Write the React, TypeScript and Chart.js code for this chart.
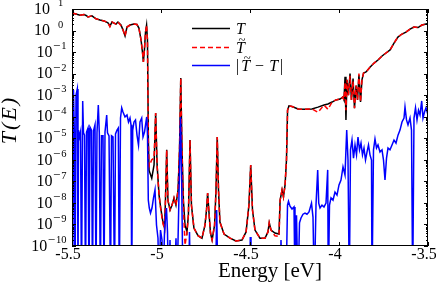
import React, { useEffect, useRef } from 'react';
import { Chart, registerables } from 'chart.js';

Chart.register(...registerables);

// ---- data ----
const energyT = [-5.500,-5.478,-5.455,-5.433,-5.421,-5.410,-5.388,-5.365,-5.343,-5.320,-5.298,-5.287,-5.275,-5.253,-5.242,-5.225,-5.213,-5.202,-5.191,-5.174,-5.152,-5.135,-5.124,-5.112,-5.104,-5.099,-5.093,-5.087,-5.081,-5.076,-5.071,-5.067,-5.052,-5.039,-5.030,-5.022,-5.011,-5.000,-4.989,-4.980,-4.975,-4.968,-4.961,-4.949,-4.938,-4.927,-4.916,-4.904,-4.896,-4.889,-4.882,-4.874,-4.865,-4.854,-4.846,-4.837,-4.829,-4.815,-4.792,-4.770,-4.753,-4.744,-4.738,-4.730,-4.722,-4.713,-4.699,-4.691,-4.684,-4.677,-4.669,-4.646,-4.612,-4.579,-4.545,-4.522,-4.506,-4.496,-4.486,-4.472,-4.444,-4.416,-4.399,-4.392,-4.382,-4.360,-4.337,-4.331,-4.320,-4.312,-4.303,-4.295,-4.289,-4.281,-4.264,-4.230,-4.191,-4.152,-4.118,-4.084,-4.062,-4.039,-4.017,-3.994,-3.978,-3.972,-3.966,-3.961,-3.955,-3.947,-3.938,-3.930,-3.921,-3.913,-3.904,-3.896,-3.888,-3.879,-3.871,-3.862,-3.848,-3.826,-3.803,-3.781,-3.758,-3.736,-3.713,-3.691,-3.669,-3.646,-3.624,-3.601,-3.579,-3.556,-3.534,-3.511,-3.500];

const transT = [6.5,5.9,5.2,5.6,5.0,4.3,4.8,3.5,3.1,2.8,2.3,1.6,2.5,2.0,2.5,1.8,1.05,0.56,1.45,1.8,2.0,1.9,1.3,0.36,0.1,0.035,0.13,0.85,1.8,0.36,8e-6,3.2e-7,1.4e-7,5.8e-7,1.5e-4,5.8e-7,2.3e-8,4.7e-9,1.3e-9,6.8e-10,1.3e-8,2.9e-6,1.3e-8,4.7e-9,7.9e-9,1.7e-8,7.9e-9,4e-8,2.9e-6,6.3e-3,2.9e-6,1.3e-8,9.3e-10,4.5e-10,2.8e-9,8.3e-6,7.9e-9,6.8e-10,3e-10,2.3e-10,9.3e-10,5e-9,2.9e-8,3.2e-9,4e-10,1.9e-10,9.3e-10,4e-8,1.15e-5,4e-8,1.3e-9,3.6e-10,2.3e-10,1.7e-10,1.9e-10,4.5e-10,7.9e-9,5.8e-7,4.7e-9,5.5e-10,2.3e-10,2.3e-10,4.5e-10,1.2e-9,5.5e-10,4e-10,3.6e-10,1.3e-8,4e-8,1.9e-8,6.8e-8,1e-6,2e-4,3.2e-4,3e-4,2.3e-4,2.2e-4,2.3e-4,2.8e-4,3.5e-4,3.9e-4,4.8e-4,6e-4,6.6e-4,8.3e-4,6e-4,7.2e-3,7e-5,5.2e-3,1e-3,1e-2,6e-4,5.9e-3,2.5e-4,2.8e-3,6e-4,8.7e-3,4.8e-4,5.2e-3,1.07e-2,1.2e-2,2e-2,3.1e-2,4.3e-2,6.6e-2,9.1e-2,0.126,0.26,0.5,0.69,0.85,1.17,1.45,1.38,1.8,2.0,2.1];

const transTilde = [6.5,5.9,5.2,5.6,5.0,4.3,4.8,3.5,3.1,2.8,2.3,1.5,2.5,2.0,2.5,1.7,1.05,0.56,1.45,1.8,2.0,1.9,1.3,0.36,0.1,0.035,0.13,0.85,1.8,0.36,8e-6,5e-7,1e-6,1.2e-6,1.5e-4,5.8e-7,2.3e-8,4e-9,1.1e-9,6e-10,1.3e-8,2.9e-6,1.3e-8,4.7e-9,7.9e-9,1.7e-8,7.9e-9,4e-8,2.9e-6,6.3e-3,2.9e-6,6e-9,1.1e-10,4.5e-10,2.8e-9,8.3e-6,7.9e-9,6.8e-10,3e-10,2.3e-10,9.3e-10,5e-9,2.9e-8,3.2e-9,4e-10,1.9e-10,9.3e-10,4e-8,1.15e-5,4e-8,1.3e-9,3.6e-10,2.3e-10,1.7e-10,1.9e-10,4.5e-10,7.9e-9,5.8e-7,4.7e-9,5.5e-10,2.3e-10,2.3e-10,4.5e-10,1.2e-9,5.5e-10,3e-10,2.8e-10,1.3e-8,4e-8,1.9e-8,6.8e-8,1e-6,2e-4,3.2e-4,3e-4,2.3e-4,2.2e-4,2.3e-4,1.6e-4,3.5e-4,2.2e-4,4.8e-4,6e-4,6.6e-4,8.3e-4,6e-4,4e-3,2e-4,5.2e-3,1e-3,8e-3,6e-4,4.5e-3,2.5e-4,2.8e-3,6e-4,1e-2,4.8e-4,5.2e-3,1.07e-2,1.2e-2,2e-2,3.1e-2,4.3e-2,6.6e-2,9.1e-2,0.126,0.26,0.5,0.69,0.85,1.17,1.45,1.38,1.8,2.0,2.1];

// 1e-12 marks values that fall below the bottom of the axis
const energyDiff = [-5.5,-5.4961,-5.4916,-5.4871,-5.4831,-5.4775,-5.4702,-5.4663,-5.4635,-5.4579,-5.4522,-5.4466,-5.4399,-5.4354,-5.4298,-5.4242,-5.4185,-5.4101,-5.4045,-5.3989,-5.3904,-5.3848,-5.3792,-5.3708,-5.3652,-5.3596,-5.3522,-5.3466,-5.341,-5.3343,-5.3258,-5.3202,-5.3146,-5.3051,-5.3006,-5.2921,-5.2837,-5.2781,-5.2697,-5.2612,-5.2556,-5.2472,-5.2399,-5.2343,-5.2275,-5.2208,-5.2135,-5.2022,-5.191,-5.1826,-5.1742,-5.1685,-5.1646,-5.159,-5.1517,-5.1433,-5.1348,-5.1264,-5.118,-5.1084,-5.1011,-5.0927,-5.0803,-5.0758,-5.0713,-5.0657,-5.059,-5.0506,-5.0421,-5.0337,-5.0253,-5.0169,-5.0112,-5.0028,-4.9944,-4.9888,-4.9803,-4.9747,-4.9691,-4.9635,-4.9579,-4.9494,-4.9438,-4.927,-4.9157,-4.9101,-4.896,-4.8904,-4.8848,-4.8764,-4.8455,-4.8399,-4.8343,-4.6938,-4.6871,-4.6798,-4.5028,-4.4983,-4.4944,-4.3315,-4.3258,-4.3202,-4.2978,-4.2893,-4.2837,-4.2753,-4.264,-4.2528,-4.2472,-4.2388,-4.2303,-4.2219,-4.2135,-4.2022,-4.191,-4.1798,-4.1685,-4.1545,-4.1461,-4.1388,-4.1292,-4.1197,-4.114,-4.1067,-4.0955,-4.0843,-4.073,-4.0635,-4.0601,-4.0534,-4.0449,-4.0337,-4.0225,-4.0112,-4.0,-3.9888,-3.9775,-3.9663,-3.9567,-3.9494,-3.9421,-3.9354,-3.927,-3.9185,-3.9101,-3.9017,-3.8933,-3.8848,-3.8764,-3.868,-3.8596,-3.8511,-3.8427,-3.8343,-3.8258,-3.8174,-3.8146,-3.8062,-3.7978,-3.7893,-3.7809,-3.7697,-3.7584,-3.75,-3.7416,-3.7331,-3.7247,-3.7135,-3.7022,-3.691,-3.6798,-3.6685,-3.6573,-3.6461,-3.6348,-3.6292,-3.6208,-3.6124,-3.6011,-3.5927,-3.586,-3.5787,-3.5702,-3.5618,-3.5534,-3.5449,-3.5354,-3.5281,-3.5197,-3.5112,-3.5];

const diffValues = [6.0e-4,1e-12,1.74e-3,2.4e-5,1e-12,1.0e-3,1.95e-3,1e-12,2.4e-5,1.15e-5,1.95e-5,1e-12,5.4e-4,1.8e-5,1.4e-5,1e-12,1.95e-5,3.0e-5,1e-12,3.3e-5,2.4e-5,1e-12,2.2e-5,4.2e-5,1e-12,1.8e-5,3.5e-4,1.8e-5,1e-12,1.3e-5,1.3e-5,1e-12,1.95e-5,1.2e-4,1.8e-5,1.3e-5,1e-12,1.3e-5,1.15e-5,1e-12,1.6e-5,2.4e-5,3.0e-5,1e-12,8.7e-5,2.6e-4,1.66e-4,9.8e-5,1.2e-4,5.7e-5,8.7e-5,4.2e-5,1e-12,2.4e-5,5.7e-5,7.1e-5,1.4e-5,4.9e-6,5.7e-5,8.7e-5,1.15e-5,1.95e-5,9.8e-5,1.4e-5,1.35e-8,5.8e-9,3.4e-9,5.8e-9,1.7e-8,4.0e-8,9.4e-10,2.3e-10,1e-12,5.5e-10,1.9e-10,1e-12,4.5e-10,2.0e-9,5.8e-9,4.5e-10,1e-12,1.9e-10,1e-12,1e-12,2.3e-10,1e-12,3.4e-7,9.8e-5,3.4e-7,1e-12,1e-12,4.5e-10,1e-12,1e-12,4.7e-9,1e-12,1e-12,2.6e-10,1e-12,1e-12,1.9e-10,1e-12,1e-12,7.9e-9,1.2e-8,7.1e-9,5.2e-9,6.5e-9,1e-12,2.7e-9,1e-12,1.2e-9,2.0e-9,3.0e-9,3.4e-9,3.0e-9,3.8e-9,9.8e-9,2.2e-9,1e-12,7.9e-9,3.4e-7,9.8e-9,5.8e-9,7.9e-9,6.5e-9,9.8e-9,3.4e-7,1e-12,7.9e-9,1.7e-8,1.35e-8,3.2e-8,2.3e-8,6.8e-8,1.15e-7,4.7e-7,2.0e-7,2.4e-5,9.8e-7,1e-12,2.9e-6,8.3e-6,1.2e-6,4.9e-6,1.7e-6,1.15e-5,2.9e-6,6.0e-6,1.7e-6,3.5e-6,9.8e-7,2.3e-6,4.9e-6,1.7e-6,9.8e-7,1e-12,2.9e-6,9.3e-6,3.5e-6,4.9e-6,2.3e-6,2.9e-6,9.8e-7,1.15e-7,1.2e-6,3.5e-6,2.9e-6,4.9e-6,8.3e-6,6.0e-6,1.4e-5,2.4e-5,5.7e-5,8.7e-5,2.8e-4,7.1e-5,4.2e-5,8.7e-5,2.4e-5,1e-12,8.7e-5,2.6e-4,7.1e-5,2.0e-4,1.2e-4,5.4e-4,8.7e-5,1.66e-4,2.6e-4,1.2e-4];

const xTickValues = [-5.5, -5, -4.5, -4, -3.5];
const xTickLabels = ['-5.5', '-5', '-4.5', '-4', '-3.5'];
const yExponents = [1, 0, -1, -2, -3, -4, -5, -6, -7, -8, -9, -10];
const xTitle = 'Energy [eV]';

const SERIF = '"Liberation Serif", "DejaVu Serif", serif';

function drawTildeT(ctx: CanvasRenderingContext2D, x: number, y: number, size: number) {
  ctx.font = `italic ${size}px ${SERIF}`;
  ctx.textAlign = 'left';
  ctx.textBaseline = 'alphabetic';
  ctx.fillText('T', x, y);
  const w = ctx.measureText('T').width;
  ctx.font = `${size * 0.8}px ${SERIF}`;
  ctx.textAlign = 'center';
  ctx.fillText('~', x + w / 2 + 1.5, y - size * 0.58);
  ctx.textAlign = 'left';
  return w;
}

const decorPlugin = {
  id: 'decor',
  afterDraw(chart: any) {
    const ctx: CanvasRenderingContext2D = chart.ctx;
    const { left, right, top, bottom } = chart.chartArea;
    const xs = chart.scales.x;
    const ys = chart.scales.y;
    ctx.save();
    ctx.fillStyle = '#000';
    ctx.strokeStyle = '#000';
    ctx.lineWidth = 1;
    ctx.setLineDash([]);
    // frame
    ctx.strokeRect(left + 0.5, top + 0.5, right - left - 1, bottom - top - 1);

    // ticks
    ctx.beginPath();
    for (const v of xTickValues) {
      const px = Math.round(xs.getPixelForValue(v)) + 0.5;
      ctx.moveTo(px, bottom);
      ctx.lineTo(px, bottom - 4);
      ctx.moveTo(px, top);
      ctx.lineTo(px, top + 4);
    }
    for (const e of yExponents) {
      const py = Math.round(ys.getPixelForValue(Math.pow(10, e))) + 0.5;
      ctx.moveTo(left, py);
      ctx.lineTo(left + 4, py);
      ctx.moveTo(right, py);
      ctx.lineTo(right - 4, py);
      if (e < 1) {
        for (let k = 2; k <= 9; k++) {
          const my = Math.round(ys.getPixelForValue(k * Math.pow(10, e))) + 0.5;
          ctx.moveTo(left, my);
          ctx.lineTo(left + 2, my);
          ctx.moveTo(right, my);
          ctx.lineTo(right - 2, my);
        }
      }
    }
    ctx.stroke();

    // x tick labels
    ctx.font = `16px ${SERIF}`;
    ctx.textAlign = 'center';
    ctx.textBaseline = 'middle';
    xTickValues.forEach((v, i) => {
      const px = xs.getPixelForValue(v) - 4;
      ctx.fillText(xTickLabels[i], px, 255);
    });

    // y tick labels: 10^e
    yExponents.forEach((e) => {
      const py = ys.getPixelForValue(Math.pow(10, e));
      ctx.textBaseline = 'middle';
      if (e >= 0) {
        ctx.font = `16px ${SERIF}`;
        ctx.textAlign = 'right';
        ctx.fillText('10', 50, py + 0.5);
        ctx.font = `10.5px ${SERIF}`;
        ctx.textAlign = 'left';
        ctx.fillText(String(e), 58, py - 5.5);
      } else {
        const digits = String(-e);
        ctx.font = `10.5px ${SERIF}`;
        ctx.textAlign = 'right';
        ctx.fillText(digits, 66.5, py - 5.5);
        const dw = ctx.measureText(digits).width;
        const minusRight = 66.5 - dw - 1;
        ctx.font = `13px ${SERIF}`;
        ctx.fillText('\u2212', minusRight, py - 5.5);
        const mw = ctx.measureText('\u2212').width;
        ctx.font = `16px ${SERIF}`;
        ctx.fillText('10', minusRight - mw - 0.5, py + 0.5);
      }
    });

    // axis titles
    ctx.font = `21px ${SERIF}`;
    ctx.textAlign = 'center';
    ctx.textBaseline = 'middle';
    ctx.fillText(xTitle, 270, 271);

    ctx.save();
    ctx.translate(10, 120);
    ctx.rotate(-Math.PI / 2);
    ctx.font = `italic 22px ${SERIF}`;
    (ctx as any).letterSpacing = '2px';
    ctx.textAlign = 'center';
    ctx.textBaseline = 'middle';
    ctx.fillText('T(E)', 0, 0);
    ctx.restore();

    // legend
    const rows = [
      { color: '#000000', dash: [] as number[], y: 28.5 },
      { color: '#ff0000', dash: [5, 3], y: 47.5 },
      { color: '#0000ff', dash: [] as number[], y: 65.5 },
    ];
    rows.forEach((r) => {
      ctx.strokeStyle = r.color;
      ctx.lineWidth = 1.5;
      ctx.setLineDash(r.dash);
      ctx.beginPath();
      ctx.moveTo(192, r.y);
      ctx.lineTo(230, r.y);
      ctx.stroke();
    });
    ctx.setLineDash([]);
    ctx.fillStyle = '#000';
    const tx = 236;
    ctx.font = `italic 16px ${SERIF}`;
    ctx.textAlign = 'left';
    ctx.textBaseline = 'alphabetic';
    ctx.fillText('T', tx, rows[0].y + 5.5);
    drawTildeT(ctx, tx, rows[1].y + 5.5, 16);
    // |T~ - T|
    let cx = tx;
    const by = rows[2].y + 5.5;
    ctx.font = `16px ${SERIF}`;
    ctx.textAlign = 'left';
    ctx.fillText('|', cx, by);
    cx += ctx.measureText('|').width + 2;
    cx += drawTildeT(ctx, cx, by, 16) + 5;
    ctx.font = `16px ${SERIF}`;
    ctx.textAlign = 'left';
    ctx.fillText('\u2212', cx, by);
    cx += ctx.measureText('\u2212').width + 5;
    ctx.font = `italic 16px ${SERIF}`;
    ctx.fillText('T', cx, by);
    cx += ctx.measureText('T').width + 2;
    ctx.font = `16px ${SERIF}`;
    ctx.fillText('|', cx, by);

    ctx.restore();
  },
};

export default function App() {
  const canvasRef = useRef<HTMLCanvasElement | null>(null);

  useEffect(() => {
    const canvas = canvasRef.current;
    if (!canvas) return;
    const toPts = (xs: number[], ys: number[]) => xs.map((x, i) => ({ x, y: ys[i] }));
    const chart = new Chart(canvas, {
      type: 'line',
      data: {
        datasets: [
          {
            label: 'T',
            data: toPts(energyT, transT),
            borderColor: '#000000',
            borderWidth: 1.5,
            pointRadius: 0,
            tension: 0,
            order: 2,
            clip: 0,
          },
          {
            label: 'T~',
            data: toPts(energyT, transTilde),
            borderColor: '#ff0000',
            borderWidth: 1.5,
            borderDash: [5, 3],
            pointRadius: 0,
            tension: 0,
            order: 1,
            clip: 0,
          },
          {
            label: '|T~ - T|',
            data: toPts(energyDiff, diffValues),
            borderColor: '#0000ff',
            borderWidth: 1.5,
            pointRadius: 0,
            tension: 0,
            order: 0,
            clip: 0,
          },
        ],
      },
      options: {
        animation: false,
        responsive: false,
        devicePixelRatio: 1,
        layout: { padding: { top: 9, right: 8, left: 0, bottom: 0 } },
        plugins: { legend: { display: false }, tooltip: { enabled: false } },
        scales: {
          x: {
            type: 'linear',
            min: -5.5,
            max: -3.5,
            grid: { display: false },
            border: { display: false },
            ticks: { display: false },
            afterFit: (s: any) => { s.height = 37; },
          },
          y: {
            type: 'logarithmic',
            min: 1e-10,
            max: 10,
            grid: { display: false },
            border: { display: false },
            ticks: { display: false },
            afterFit: (s: any) => { s.width = 72; },
          },
        },
      } as any,
      plugins: [decorPlugin],
    });
    return () => chart.destroy();
  }, []);

  return (
    <div style={{ position: 'absolute', left: 0, top: 0, width: 436, height: 283, background: '#fff' }}>
      <canvas ref={canvasRef} width={436} height={283} style={{ width: 436, height: 283, display: 'block' }} />
    </div>
  );
}
